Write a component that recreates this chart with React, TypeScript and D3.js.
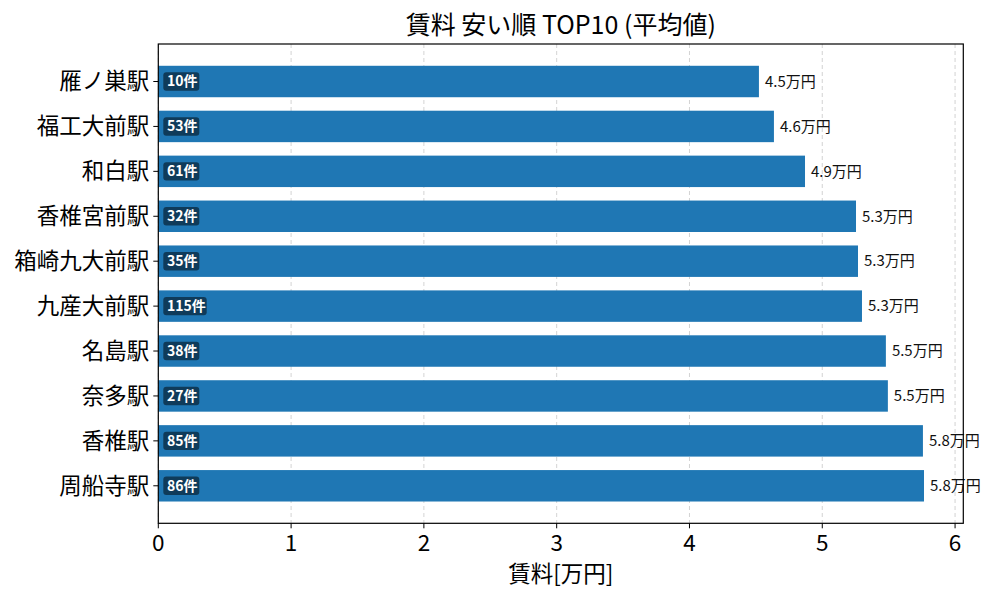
import React from "react";
import * as d3 from "d3";

const stations = ["雁ノ巣駅", "福工大前駅", "和白駅", "香椎宮前駅", "箱崎九大前駅", "九産大前駅", "名島駅", "奈多駅", "香椎駅", "周船寺駅"];
const rents = [4.523, 4.636, 4.87, 5.254, 5.269, 5.299, 5.479, 5.494, 5.758, 5.766];
const counts = [10, 53, 61, 32, 35, 115, 38, 27, 85, 86];
const xTicks = [0, 1, 2, 3, 4, 5, 6];

const W = 1000, H = 600;
const left = 158.3, right = 963.3, top = 44, bottom = 523.3;
const FONT = "'Noto Sans CJK JP', 'Noto Sans', sans-serif";

export default function App() {
  const x = d3.scaleLinear().domain([0, 6.062]).range([left, right]);
  const y = d3.scaleLinear().domain([-0.835, stations.length - 1 + 0.835]).range([top, bottom]);
  const bh = y(0.35) - y(-0.35);
  return (
    <svg width={W} height={H} style={{ position: "absolute", left: 0, top: 0 }} fontFamily={FONT}>
      <rect x={0} y={0} width={W} height={H} fill="#fff" />
      {xTicks.map((t) => (
        <line key={"g" + t} x1={x(t)} x2={x(t)} y1={top} y2={bottom} stroke="#b0b0b0" strokeOpacity={0.7} strokeDasharray="4,3" strokeWidth={0.8} />
      ))}
      {stations.map((s, i) => (
        <g key={s}>
          <rect x={x(0)} y={y(i) - bh / 2} width={x(rents[i]) - x(0)} height={bh} fill="#1f77b4" />
          <text x={x(rents[i]) + 6} y={y(i)} dy="0.35em" fontSize={15} fill="#111">{rents[i].toFixed(1)}万円</text>
          <rect x={163.3} y={y(i) - 9.2} width={counts[i] >= 100 ? 43.4 : 36} height={18.4} rx={3} fill="#000" fillOpacity={0.5} />
          <text x={167} y={y(i)} dy="0.35em" fontSize={14} fontWeight="bold" fill="#fff">{counts[i]}件</text>
          <line x1={left - 5} x2={left} y1={y(i)} y2={y(i)} stroke="#000" strokeWidth={1} />
          <text x={left - 9} y={y(i)} dy="0.35em" fontSize={22.5} textAnchor="end" fill="#000">{s}</text>
        </g>
      ))}
      {xTicks.map((t) => (
        <g key={"t" + t}>
          <line x1={x(t)} x2={x(t)} y1={bottom} y2={bottom + 5} stroke="#000" strokeWidth={1} />
          <text x={x(t)} y={bottom + 28} fontSize={22.5} textAnchor="middle" fill="#000">{t}</text>
        </g>
      ))}
      <rect x={left} y={top} width={right - left} height={bottom - top} fill="none" stroke="#000" strokeWidth={1.2} />
      <text x={(left + right) / 2} y={582} fontSize={22.5} textAnchor="middle" fill="#000">賃料[万円]</text>
      <text x={(left + right) / 2} y={34} fontSize={25} textAnchor="middle" fill="#000">賃料 安い順 TOP10 (平均値)</text>
    </svg>
  );
}
